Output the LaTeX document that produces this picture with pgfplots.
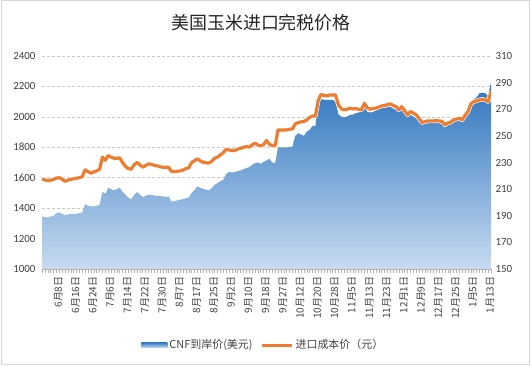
\documentclass[border=0pt]{standalone}
\usepackage{pgfplots}
\usepackage{pgfplotstable}
\pgfplotsset{compat=1.18}
\usepackage{fontspec}
\setmainfont{Carlito}
\newfontfamily\cjk{Noto Sans CJK SC}
\definecolor{areadark}{RGB}{46,117,190}
\definecolor{arealight}{RGB}{200,219,241}
\definecolor{lineorange}{RGB}{237,125,49}
\definecolor{gridgray}{RGB}{200,200,200}
\definecolor{framegray}{RGB}{215,215,215}
\definecolor{ticktext}{RGB}{64,64,64}

\pgfplotstableread{
x cnf cost
0 189.5 1591
1 189 1585
2 188.8 1582
3 189.5 1584
4 190 1588
5 192 1598
6 192.5 1600
7 191.5 1590
8 190.5 1576
9 191 1584
10 191.3 1590
11 191.3 1592
12 191.5 1597
13 192 1600
14 192.5 1608
15 198.8 1652
16 197.5 1640
17 197 1630
18 197 1638
19 197.5 1645
20 198 1655
21 208 1735
22 206.5 1715
23 211 1746
24 210 1735
25 209 1728
26 210 1728
27 211 1730
28 208 1700
29 205.8 1674
30 203.5 1660
31 202.5 1656
32 205.5 1685
33 207.8 1700
34 206 1685
35 204 1669
36 205 1680
37 205.8 1691
38 205.5 1688
39 205.2 1682
40 205 1678
41 204.7 1672
42 204.5 1669
43 204.3 1669
44 204.5 1668
45 200.8 1641
46 201 1641
47 201.5 1642
48 202 1645
49 202.5 1650
50 203.2 1660
51 203.8 1665
52 207 1700
53 209.5 1712
54 212 1724
55 211 1710
56 210.3 1702
57 209.5 1698
58 209 1696
59 211 1708
60 213.3 1728
61 214.5 1735
62 216 1750
63 217 1765
64 221.5 1787
65 222.8 1782
66 222.5 1779
67 222.8 1779
68 223.5 1788
69 224 1794
70 225 1800
71 225.8 1805
72 226.5 1801
73 228.3 1815
74 229.5 1827
75 230 1815
76 229 1809
77 230.5 1818
78 231.5 1844
79 232.8 1820
80 230 1812
81 229.5 1809
82 241.3 1914
83 241.3 1914
84 241.3 1914
85 241.3 1914
86 241.5 1919
87 242 1920
88 250 1954
89 252 1962
90 251 1967
91 250 1970
92 253.3 1980
93 254.5 1997
94 257.5 2006
95 257.5 2006
96 275.8 2111
97 277.5 2148
98 277.2 2140
99 277 2138
100 277 2144
101 277 2144
102 275.8 2144
103 266 2078
104 264.5 2052
105 264 2046
106 264.5 2050
107 265.8 2057
108 266 2052
109 267 2054
110 267.5 2050
111 268.3 2046
112 272.5 2089
113 268 2060
114 267.5 2050
115 268 2055
116 269 2057
117 270 2065
118 270.8 2072
119 271 2075
120 271.5 2080
121 272 2085
122 270.5 2075
123 269.5 2067
124 267.5 2046
125 270 2067
126 267 2041
127 264 2013
128 265.8 2035
129 264.5 2025
130 263.3 2013
131 261.3 1991
132 258.3 1962
133 259 1968
134 259.5 1973
135 259.5 1973
136 259.5 1973
137 259.8 1975
138 259.5 1973
139 259 1970
140 256.5 1947
141 258 1960
142 258.8 1965
143 260.8 1980
144 261.5 1985
145 262 1991
146 260.8 1980
147 264 2010
148 267 2035
149 275.8 2085
150 277.5 2100
151 279 2105
152 282 2111
153 282.5 2116
154 282 2110
155 280 2100
156 290 2166
}\data

\pgfplotsset{
  base/.style={
    at={(42bp,98bp)}, anchor=south west, scale only axis,
    width=449bp, height=213bp, xmin=0, xmax=156,
  }
}

\begin{document}
\begin{tikzpicture}
\useasboundingbox (0bp,0bp) rectangle (531bp,367bp);
\draw[framegray, line width=1bp] (1bp,2.7bp) rectangle (529bp,366.3bp);
\node[font=\cjk\fontsize{18}{20}\selectfont, text=black!85] at (261bp,344.5bp) {美国玉米进口完税价格};

% background axis: left ticks + grid
\begin{axis}[base,
  ymin=1000, ymax=2400, ytick={1000,1200,...,2400},
  ymajorgrids, grid style={gridgray, dash pattern=on 3bp off 2bp, line width=0.6bp},
  hide x axis, axis y line*=left,
  y axis line style={draw=none}, ytick style={draw=none},
  yticklabel style={font=\fontsize{11}{13}\selectfont, text=ticktext, xshift=-3bp},
  /pgf/number format/assume math mode=true,
  /pgf/number format/1000 sep={},
]
\addplot[draw=none] table[x=x,y=cost]{\data};
\end{axis}

% area axis: right ticks
\begin{axis}[base,
  ymin=150, ymax=310, ytick={150,170,...,310},
  hide x axis, axis y line*=right,
  y axis line style={draw=none}, ytick style={draw=none},
  yticklabel style={font=\fontsize{11}{13}\selectfont, text=ticktext, xshift=1bp},
  /pgf/number format/assume math mode=true,
]
\addplot[draw=none, top color=areadark, bottom color=arealight]
  table[x=x,y=cnf]{\data} -- (axis cs:156,150) -- (axis cs:0,150) -- cycle;
\end{axis}

% line axis: x axis, line, legend
\begin{axis}[base,
  ymin=1000, ymax=2400,
  axis x line*=bottom, axis y line=none,
  x axis line style={draw=gray!60, line width=0.6bp, -},
  xtick={5,11,...,155}, minor xtick={0,...,156},
  xticklabels={6月8日,6月16日,6月24日,7月6日,7月14日,7月22日,7月30日,8月7日,8月17日,8月25日,9月2日,9月10日,9月18日,9月27日,10月12日,10月20日,10月28日,11月5日,11月13日,11月23日,12月1日,12月9日,12月17日,12月25日,1月5日,1月13日},
  xticklabel style={font=\cjk\fontsize{10}{12}\selectfont, rotate=90, anchor=east, text=ticktext, yshift=-2bp},
  tick align=outside, major tick length=4bp, minor tick length=4bp,
  tick style={draw=gray!60, line width=0.5bp},
  legend columns=2,
  legend style={at={(0.493,-0.357)}, anchor=center, draw=none, fill=none,
    font=\cjk\fontsize{11}{13}\selectfont, text=ticktext,
    /tikz/every even column/.append style={column sep=6bp}},
]
\addlegendimage{draw=none, mark=none, legend image code/.code={\path[draw=none, top color=areadark, bottom color=arealight] (0bp,-2.8bp) rectangle (26bp,2.8bp);}}
\addlegendentry{CNF到岸价(美元)}
\addplot[white, line width=4.4bp, line join=round, forget plot] table[x=x,y=cost]{\data};
\addplot[lineorange, line width=3.2bp, line join=round,
  legend image code/.code={\draw[lineorange, line width=3bp] (0bp,0bp) -- (30bp,0bp);}]
  table[x=x,y=cost]{\data};
\addlegendentry{进口成本价（元）}
\end{axis}
\end{tikzpicture}
\end{document}
